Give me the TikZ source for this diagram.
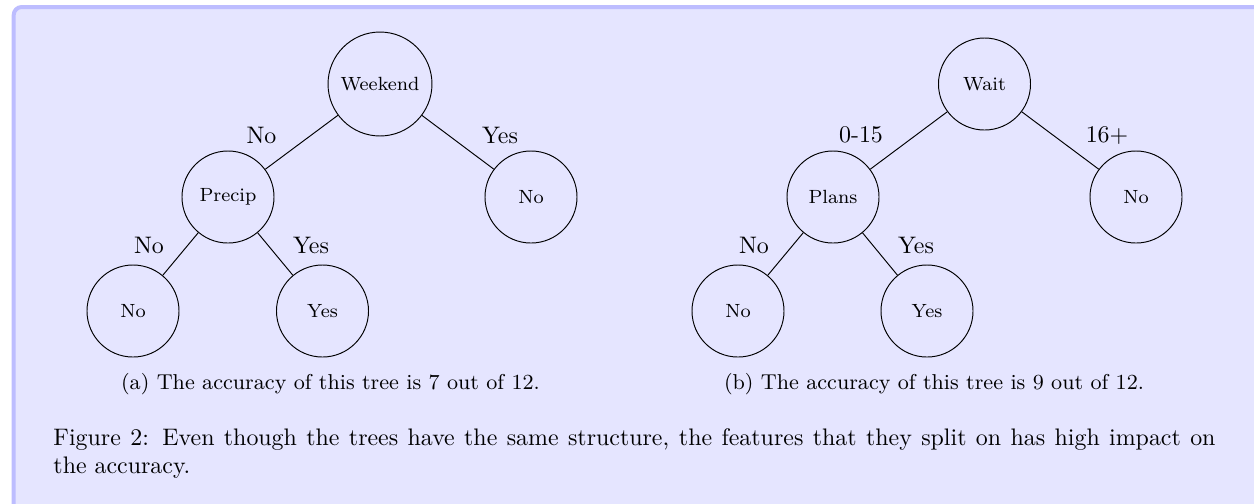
\documentclass[tikz,border=0pt]{standalone}
\definecolor{framefill}{HTML}{E5E5FF}
\definecolor{frameline}{HTML}{BDBDFF}
\begin{document}
\begin{tikzpicture}[x=0.4184pt,y=-0.4184pt,
  treenode/.style={circle, draw, minimum size=38.5pt, inner sep=1pt, font=\footnotesize},
  elabel/.style={anchor=base, inner sep=0pt},
  subcap/.style={anchor=base, inner sep=0pt, font=\small}]
\useasboundingbox (0,0) rectangle (1254,503);
\clip (0,0) rectangle (1254,503);
\draw[line width=1.67pt, draw=frameline, fill=framefill, rounded corners=3.35pt] (13.7,7) rectangle (1300,560);
% left tree
\node[treenode, minimum size=43.5pt] (W1) at (380,84) {Weekend};
\node[treenode] (P1) at (228,197) {Precip};
\node[treenode] (N1) at (531,197) {No};
\node[treenode] (NN1) at (133,311) {No};
\node[treenode] (Y1) at (322.5,311) {Yes};
\draw (W1) -- (P1);
\draw (W1) -- (N1);
\draw (P1) -- (NN1);
\draw (P1) -- (Y1);
\node[elabel] (l1) at (261.5,143) {No};
\node[elabel] (l2) at (500,143) {Yes};
\node[elabel] (l3) at (149,253) {No};
\node[elabel] (l4) at (311,253) {Yes};
% right tree
\node[treenode] (W2) at (984.5,84) {Wait};
\node[treenode] (P2) at (833,197) {Plans};
\node[treenode] (N2) at (1136,197) {No};
\node[treenode] (NN2) at (738,311) {No};
\node[treenode] (Y2) at (927,311) {Yes};
\draw (W2) -- (P2);
\draw (W2) -- (N2);
\draw (P2) -- (NN2);
\draw (P2) -- (Y2);
\node[elabel] (r1) at (861,142) {0-15};
\node[elabel] (r2) at (1107,142) {16$+$};
\node[elabel] (r3) at (754,253) {No};
\node[elabel] (r4) at (916,253) {Yes};
% captions
\node[subcap] (ca) at (330.5,389) {(a) The accuracy of this tree is 7 out of 12.};
\node[subcap] (cb) at (934,389) {(b) The accuracy of this tree is 9 out of 12.};
\node[anchor=base west, inner sep=0pt, text width=486.2pt, align=justify] (cap) at (53,445)
  {Figure 2: Even though the trees have the same structure, the features that they split on has high impact on\linebreak the accuracy.};
\end{tikzpicture}
\end{document}
